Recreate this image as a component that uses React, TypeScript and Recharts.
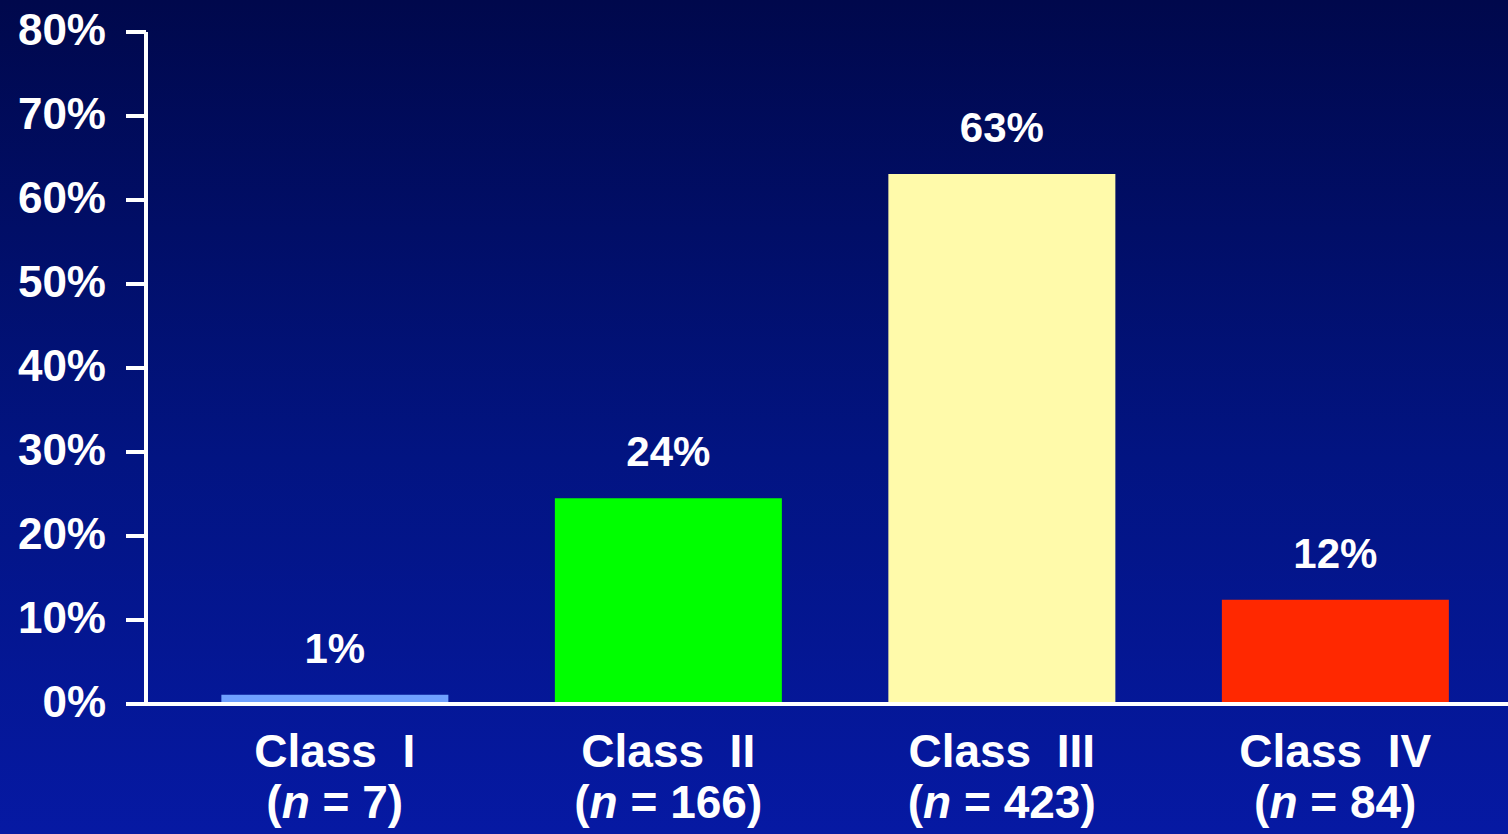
import React from 'react';
import { BarChart, Bar, XAxis, YAxis, Cell, LabelList } from 'recharts';

const categories = ['Class  I', 'Class  II', 'Class  III', 'Class  IV'];
const counts = ['7', '166', '423', '84'];
const values = [1.1, 24.5, 63.1, 12.4];
const valueLabels = ['1%', '24%', '63%', '12%'];
const barColors = ['#6fa0ff', '#00ff00', '#fffaaa', '#ff2800'];
const yTicks = [0, 10, 20, 30, 40, 50, 60, 70, 80];

const data = categories.map((c, i) => ({ name: c, n: counts[i], value: values[i], label: valueLabels[i] }));

const FONT = '"Liberation Sans", Arial, sans-serif';

const XTick = (props: any) => {
  const { x, y, index } = props;
  const d = data[index];
  return (
    <g>
      <text x={x} y={y + 63} textAnchor="middle" fill="#fff" fontFamily={FONT} fontWeight="bold" fontSize={46} style={{ whiteSpace: 'pre' }}>
        {d.name}
      </text>
      <text x={x} y={y + 114} textAnchor="middle" fill="#fff" fontFamily={FONT} fontWeight="bold" fontSize={46} style={{ whiteSpace: 'pre' }}>
        (<tspan fontStyle="italic">n</tspan> = {d.n})
      </text>
    </g>
  );
};

const YTick = (props: any) => {
  const { x, y, payload } = props;
  return (
    <text x={x} y={y + 13} textAnchor="end" fill="#fff" fontFamily={FONT} fontWeight="bold" fontSize={44}>
      {`${payload.value}%`}
    </text>
  );
};

const ValueLabel = (props: any) => {
  const { x, y, width, index } = props;
  return (
    <text x={x + width / 2} y={y - 32} textAnchor="middle" fill="#fff" fontFamily={FONT} fontWeight="bold" fontSize={42}>
      {data[index].label}
    </text>
  );
};

export default function App() {
  return (
    <div
      style={{
        position: 'absolute',
        left: 0,
        top: 0,
        width: 1508,
        height: 834,
        background: 'linear-gradient(to bottom, #00084c 0%, #021482 55%, #0619a3 100%)',
        overflow: 'hidden',
      }}
    >
      <BarChart width={1508} height={834} data={data} margin={{ top: 32, right: 0, bottom: 0, left: 0 }} barCategoryGap="16%">
        <XAxis
          dataKey="name"
          height={130}
          interval={0}
          tickLine={false}
          tickSize={0}
          tickMargin={0}
          tick={<XTick />}
          axisLine={{ stroke: '#ffffff', strokeWidth: 4 }}
          padding={{ left: 22, right: 6 }}
        />
        <YAxis
          width={146}
          domain={[0, 80]}
          ticks={yTicks}
          interval={0}
          tickSize={20}
          tickMargin={20}
          tickLine={{ stroke: '#ffffff', strokeWidth: 4 }}
          axisLine={{ stroke: '#ffffff', strokeWidth: 4 }}
          tick={<YTick />}
        />
        <Bar dataKey="value" isAnimationActive={false}>
          {data.map((d, i) => (
            <Cell key={d.name} fill={barColors[i]} />
          ))}
          <LabelList dataKey="label" content={<ValueLabel />} />
        </Bar>
      </BarChart>
    </div>
  );
}
